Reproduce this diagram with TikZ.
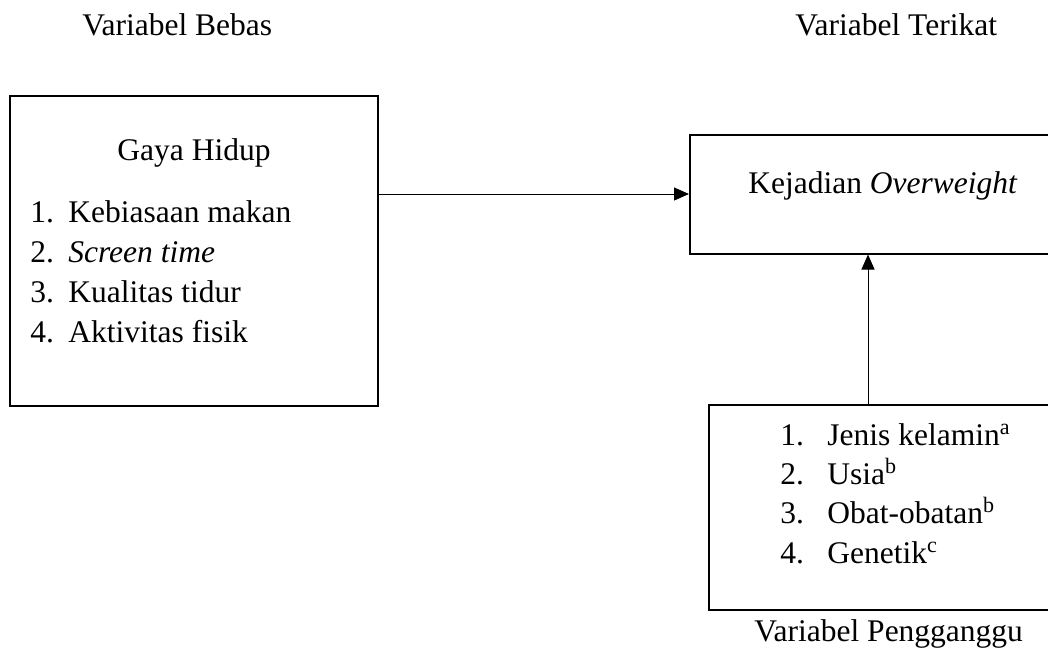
\documentclass[tikz,border=0pt]{standalone}
\usepackage{fontspec}
\setmainfont{Liberation Serif}
\usetikzlibrary{arrows.meta}
\begin{document}
\begin{tikzpicture}[x=0.5pt,y=-0.5pt,
  box/.style={draw,line width=1pt,rectangle,inner sep=0pt},
  txt/.style={inner sep=0pt,anchor=base west,font=\fontsize{15.75}{19}\selectfont},
  ctxt/.style={inner sep=0pt,anchor=base,font=\fontsize{15.75}{19}\selectfont},
  arr/.style={line width=0.5pt,-{Triangle[length=7.5pt,width=6.5pt]}}]
\useasboundingbox (0,0) rectangle (1048,648);
\clip (0,0) rectangle (1048,648);
% labels
\node[txt] (lbebas) at (82,35) {Variabel Bebas};
\node[txt] (lterikat) at (795,35) {Variabel Terikat};
\node[txt] (lganggu) at (754,641) {Variabel Pengganggu};
% boxes (sizes in pt = px/2)
\node[box,minimum width=184pt,minimum height=155pt] (gaya) at (194,251) {};
\node[box,minimum width=180pt,minimum height=59.5pt] (kej) at (870,194) {};
\node[box,minimum width=170.5pt,minimum height=102.5pt] (ganggu) at (879.5,507.5) {};
% left box text
\node[ctxt] (gh) at (194,160) {Gaya Hidup};
\node[txt] (g1) at (30,222) {\makebox[19pt][l]{1.}Kebiasaan makan};
\node[txt] (g2) at (30,262) {\makebox[19pt][l]{2.}\textit{Screen time}};
\node[txt] (g3) at (30,302) {\makebox[19pt][l]{3.}Kualitas tidur};
\node[txt] (g4) at (30,342) {\makebox[19pt][l]{4.}Aktivitas fisik};
% top right text
\node[txt] (kt) at (748,193) {Kejadian \textit{Overweight}};
% bottom text
\node[txt] (b1) at (780,445) {\makebox[23.5pt][l]{1.}Jenis kelamin\textsuperscript{a}};
\node[txt] (b2) at (780,484) {\makebox[23.5pt][l]{2.}Usia\textsuperscript{b}};
\node[txt] (b3) at (780,523) {\makebox[23.5pt][l]{3.}Obat-obatan\textsuperscript{b}};
\node[txt] (b4) at (780,563) {\makebox[23.5pt][l]{4.}Genetik\textsuperscript{c}};
% connectors
\draw[arr] (kej.west -| gaya.east) -- (kej.west);
\coordinate (va) at (868,0);
\draw[arr] (va |- ganggu.north) -- (va |- kej.south);
\end{tikzpicture}
\end{document}
